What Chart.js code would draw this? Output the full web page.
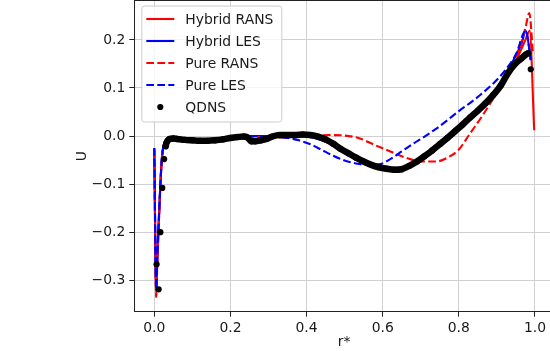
<!DOCTYPE html>
<html><head><meta charset="utf-8">
<script src="https://cdn.jsdelivr.net/npm/chart.js@4"></script>
<style>
html,body{margin:0;padding:0;overflow:hidden;background:#fff;width:550px;height:351px}
#wrap{width:550px;height:351px;overflow:hidden;position:relative}
canvas{display:block;position:absolute;left:0;top:-12px}
</style></head><body>
<div id="wrap"><canvas id="c" width="560" height="363"></canvas></div>
<script>
// ---- data ----
const xTicks = [0, 0.2, 0.4, 0.6, 0.8, 1.0];
const yTicks = [-0.3, -0.2, -0.1, 0, 0.1, 0.2];
const seriesNames = ['Hybrid RANS', 'Hybrid LES', 'Pure RANS', 'Pure LES', 'QDNS'];

const rHybridRANS = [0,0.005,0.008,0.011,0.016,0.02,0.025,0.032,0.045,0.07,0.1,0.14,0.18,0.22,0.26,0.3,0.34,0.38,0.42,0.46,0.5,0.54,0.58,0.62,0.66,0.7,0.74,0.78,0.82,0.86,0.9,0.93,0.955,0.975,0.986,0.998];
const uHybridRANS = [-0.03,-0.333,-0.26,-0.20,-0.105,-0.048,-0.019,-0.008,-0.005,-0.006,-0.008,-0.009,-0.006,-0.002,-0.001,0.000,0.002,0.001,-0.003,-0.014,-0.032,-0.049,-0.061,-0.068,-0.065,-0.050,-0.026,0.001,0.030,0.060,0.094,0.128,0.165,0.200,0.219,0.012];

const rHybridLES = [0,0.005,0.008,0.011,0.016,0.02,0.025,0.032,0.045,0.07,0.1,0.14,0.18,0.22,0.26,0.3,0.34,0.38,0.42,0.46,0.5,0.54,0.58,0.62,0.66,0.7,0.74,0.78,0.82,0.86,0.9,0.93,0.95,0.965,0.976,0.989];
const uHybridLES = [-0.025,-0.318,-0.25,-0.19,-0.10,-0.045,-0.018,-0.008,-0.005,-0.006,-0.008,-0.009,-0.006,-0.001,0.000,0.000,0.002,0.001,-0.004,-0.015,-0.033,-0.050,-0.062,-0.068,-0.064,-0.047,-0.023,0.004,0.033,0.063,0.098,0.138,0.168,0.193,0.219,0.158];

const rPureRANS = [0,0.005,0.008,0.011,0.016,0.02,0.025,0.032,0.045,0.07,0.1,0.14,0.18,0.22,0.26,0.3,0.34,0.38,0.42,0.46,0.5,0.54,0.58,0.62,0.66,0.7,0.74,0.77,0.8,0.83,0.86,0.89,0.92,0.95,0.975,0.985,0.995];
const uPureRANS = [-0.03,-0.335,-0.26,-0.20,-0.10,-0.045,-0.018,-0.008,-0.005,-0.006,-0.008,-0.009,-0.006,-0.002,-0.002,-0.002,-0.003,0.000,0.001,0.002,0.001,-0.005,-0.019,-0.032,-0.045,-0.053,-0.053,-0.045,-0.028,0.006,0.040,0.077,0.112,0.160,0.225,0.256,0.17];

const rPureLES = [0,0.005,0.008,0.011,0.016,0.02,0.025,0.032,0.045,0.07,0.1,0.14,0.18,0.22,0.26,0.3,0.32,0.35,0.38,0.41,0.44,0.47,0.5,0.53,0.56,0.59,0.62,0.65,0.68,0.71,0.74,0.77,0.8,0.83,0.86,0.89,0.92,0.95,0.976,0.989];
const uPureLES = [-0.025,-0.318,-0.25,-0.19,-0.10,-0.045,-0.018,-0.008,-0.005,-0.006,-0.008,-0.009,-0.006,-0.001,0.000,0.000,-0.001,-0.004,-0.009,-0.017,-0.029,-0.041,-0.051,-0.057,-0.060,-0.059,-0.048,-0.032,-0.016,-0.001,0.015,0.033,0.052,0.069,0.088,0.109,0.135,0.170,0.219,0.158];

const rQDNS = [0.006,0.0115,0.016,0.021,0.026,0.030,0.035,0.04,0.05,0.06,0.08,0.10,0.12,0.14,0.16,0.18,0.20,0.22,0.235,0.245,0.255,0.265,0.28,0.295,0.31,0.33,0.35,0.37,0.39,0.41,0.43,0.45,0.47,0.49,0.51,0.53,0.55,0.57,0.59,0.61,0.63,0.65,0.67,0.69,0.71,0.73,0.75,0.77,0.79,0.81,0.83,0.85,0.87,0.89,0.91,0.93,0.95,0.965,0.975,0.982,0.989];
const uQDNS = [-0.267,-0.319,-0.200,-0.108,-0.048,-0.021,-0.010,-0.006,-0.005,-0.006,-0.008,-0.009,-0.010,-0.010,-0.009,-0.007,-0.004,-0.002,-0.001,-0.003,-0.011,-0.011,-0.009,-0.006,-0.001,0.002,0.002,0.002,0.003,0.002,-0.001,-0.007,-0.016,-0.027,-0.036,-0.045,-0.053,-0.060,-0.065,-0.068,-0.070,-0.069,-0.062,-0.053,-0.042,-0.030,-0.017,-0.004,0.010,0.024,0.039,0.053,0.068,0.085,0.105,0.132,0.152,0.162,0.169,0.172,0.139];

// ---- build ----
const pts = (r, u) => r.map((x, i) => ({x: x, y: u[i]}));
const FONT = 'DejaVu Sans';
const FS = 13.9;
const TXT = '#1a1a1a';
const LW = 2.1;
const DASH = [7.7, 3.3];
const nQ = rQDNS.length;

const lineDs = (label, data, color, dash, order) => ({
  label, data, showLine: true, borderColor: color, backgroundColor: color,
  borderWidth: LW, borderDash: dash, pointRadius: 0, fill: false,
  cubicInterpolationMode: 'monotone', order
});

const datasets = [
  lineDs(seriesNames[0], pts(rHybridRANS, uHybridRANS), '#ff0000', [], 4),
  lineDs(seriesNames[1], pts(rHybridLES, uHybridLES), '#0000ff', [], 3),
  lineDs(seriesNames[2], pts(rPureRANS, uPureRANS), '#ff0000', DASH, 2),
  lineDs(seriesNames[3], pts(rPureLES, uPureLES), '#0000ff', DASH, 1),
  {
    label: seriesNames[4], data: pts(rQDNS, uQDNS), showLine: true,
    borderColor: '#000', backgroundColor: '#000', borderWidth: 6.5,
    borderJoinStyle: 'round', borderCapStyle: 'round',
    pointRadius: 3.1, pointBorderWidth: 0, pointBackgroundColor: '#000',
    cubicInterpolationMode: 'monotone', order: 0,
    segment: { borderColor: c => (c.p0DataIndex < 5 || c.p1DataIndex === nQ - 1) ? 'rgba(0,0,0,0)' : '#000' }
  }
];

const fmt = v => { const s = Math.abs(v).toFixed(1); return (v < -1e-9 ? '\u2212' : '') + s; };

const mplLegend = {
  id: 'mplLegend',
  afterDatasetsDraw(chart) {
    const ctx = chart.ctx, ca = chart.chartArea;
    // top spine
    ctx.save();
    ctx.strokeStyle = '#222'; ctx.lineWidth = 1;
    ctx.beginPath(); ctx.moveTo(ca.left, ca.top); ctx.lineTo(ca.right, ca.top); ctx.stroke();
    // legend box
    const bx = ca.left + 7.5, by = ca.top + 5.5, bw = 140, bh = 116, rad = 3;
    ctx.beginPath();
    ctx.moveTo(bx + rad, by);
    ctx.lineTo(bx + bw - rad, by); ctx.quadraticCurveTo(bx + bw, by, bx + bw, by + rad);
    ctx.lineTo(bx + bw, by + bh - rad); ctx.quadraticCurveTo(bx + bw, by + bh, bx + bw - rad, by + bh);
    ctx.lineTo(bx + rad, by + bh); ctx.quadraticCurveTo(bx, by + bh, bx, by + bh - rad);
    ctx.lineTo(bx, by + rad); ctx.quadraticCurveTo(bx, by, bx + rad, by);
    ctx.closePath();
    ctx.fillStyle = 'rgba(255,255,255,0.8)'; ctx.fill();
    ctx.strokeStyle = '#cccccc'; ctx.lineWidth = 1; ctx.stroke();
    const hx0 = bx + 4.5, hx1 = hx0 + 28, tx = hx1 + 11;
    ctx.font = FS + 'px "' + FONT + '"';
    ctx.textBaseline = 'middle'; ctx.textAlign = 'left';
    chart.data.datasets.forEach((ds, i) => {
      const cy = by + 13 + i * 22;
      if (i < 4) {
        ctx.strokeStyle = ds.borderColor; ctx.lineWidth = LW;
        ctx.setLineDash(ds.borderDash || []);
        ctx.beginPath(); ctx.moveTo(hx0, cy); ctx.lineTo(hx1, cy); ctx.stroke();
        ctx.setLineDash([]);
      } else {
        ctx.fillStyle = '#000';
        ctx.beginPath(); ctx.arc((hx0 + hx1) / 2, cy, 3.1, 0, Math.PI * 2); ctx.fill();
      }
      ctx.fillStyle = TXT;
      ctx.fillText(ds.label, tx, cy + 1);
    });
    ctx.restore();
  }
};

new Chart(document.getElementById('c'), {
  type: 'scatter',
  data: { datasets },
  options: {
    responsive: false, animation: false, devicePixelRatio: 1, events: [],
    layout: { padding: { left: 70, right: 6, top: 12.5, bottom: 0 } },
    plugins: { legend: { display: false }, tooltip: { enabled: false } },
    scales: {
      x: {
        type: 'linear', min: -0.0525, max: 1.05,
        afterBuildTicks: s => { s.ticks = xTicks.map(v => ({ value: v })); },
        afterFit: s => { s.height = 39.3; s.paddingLeft = 0; s.paddingRight = 0; },
        ticks: { callback: v => fmt(v), color: TXT, font: { family: FONT, size: FS }, padding: 3, maxRotation: 0, autoSkip: false },
        grid: { color: '#d0d0d0', lineWidth: 1, tickColor: '#222', tickLength: 5, drawTicks: true },
        border: { display: true, color: '#222', width: 1 },
        title: { display: true, text: 'r*', color: TXT, font: { family: FONT, size: FS }, padding: { top: 0, bottom: 0 } }
      },
      y: {
        type: 'linear', min: -0.3655, max: 0.282,
        afterBuildTicks: s => { s.ticks = yTicks.map(v => ({ value: v })); },
        afterFit: s => { s.width = 64.3; s.paddingTop = 0; s.paddingBottom = 0; },
        ticks: { callback: v => fmt(v), color: TXT, font: { family: FONT, size: FS }, padding: 4, autoSkip: false },
        grid: { color: '#d0d0d0', lineWidth: 1, tickColor: '#222', tickLength: 5, drawTicks: true },
        border: { display: true, color: '#222', width: 1 },
        title: { display: true, text: 'U', color: TXT, font: { family: FONT, size: FS }, padding: { top: 4, bottom: 0 } }
      }
    }
  },
  plugins: [mplLegend]
});
</script>
</body></html>
